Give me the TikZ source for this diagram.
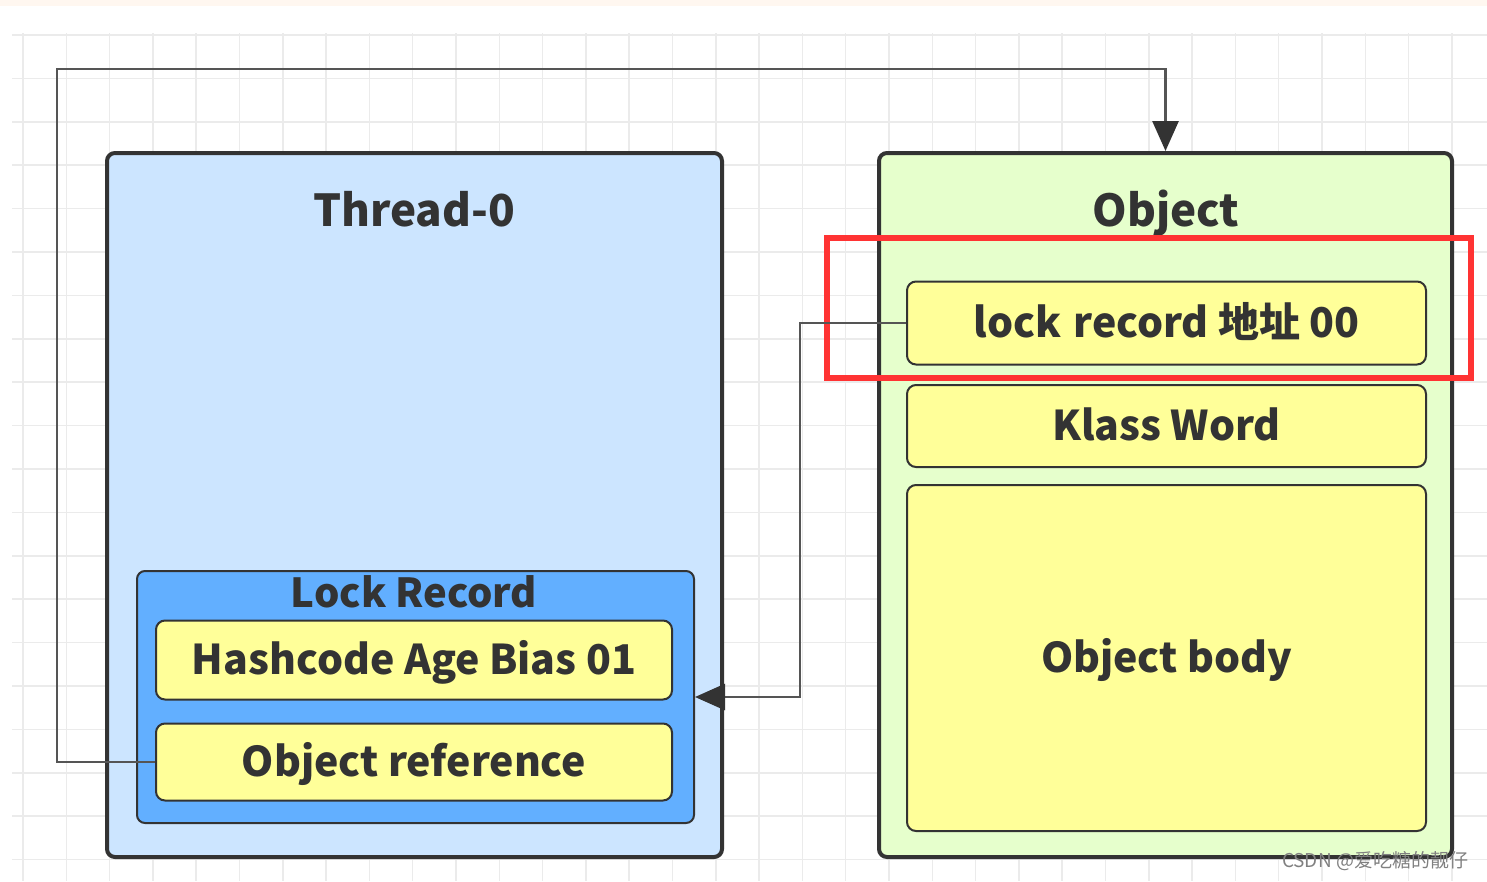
\documentclass[tikz,border=0pt]{standalone}
\usepackage{fontspec}
\setmainfont{Noto Sans CJK SC}
\usepackage{tikz}
\usetikzlibrary{arrows.meta, positioning, backgrounds}
\definecolor{gridgray}{HTML}{EBEBEB}
\definecolor{threadblue}{HTML}{CCE5FF}
\definecolor{recblue}{HTML}{62AFFF}
\definecolor{objgreen}{HTML}{E6FFCC}
\definecolor{fieldyellow}{HTML}{FFFF99}
\definecolor{edgegray}{HTML}{333333}
\definecolor{linegray}{HTML}{555555}
\definecolor{markred}{HTML}{FF3333}
\tikzstyle{outerbox} = [rectangle, rounded corners=8pt, draw=edgegray, line width=4pt]
\tikzstyle{recbox} = [rectangle, rounded corners=8pt, draw=edgegray, line width=2pt, fill=recblue]
\tikzstyle{field} = [rectangle, rounded corners=9pt, draw=edgegray, line width=2pt, fill=fieldyellow, minimum width=516pt, text=edgegray, text height=29pt, text depth=0pt, font=\fontsize{41}{48}\selectfont\bfseries]
\tikzstyle{title} = [text=edgegray, text height=30pt, text depth=0pt, font=\fontsize{44}{50}\selectfont\bfseries]
\tikzstyle{arrow} = [draw=linegray, line width=2.8pt, -{Triangle[length=30pt,width=26pt,color=edgegray]}]

\begin{document}
\begin{tikzpicture}[x=1pt, y=-1pt]
\useasboundingbox (0,0) rectangle (1487,881);
\fill[orange!6] (0,0) rectangle (1487,6);

% grid
\foreach \gx in {0,...,33} \draw[gridgray, line width=1.5pt] (23+43.3*\gx,33) -- (23+43.3*\gx,881);
\foreach \gy in {0,...,19} \draw[gridgray, line width=1.5pt] (12,35+43.4*\gy) -- (1487,35+43.4*\gy);

% thread side
\node (thread) [outerbox, fill=threadblue, minimum width=615pt, minimum height=704pt] at (414.5,505) {};
\node (threadtitle) [title] at (414,211) {Thread-0};
\node (lockrec) [recbox, minimum width=557pt, minimum height=252pt] at (415.5,697) {};
\node (lockrectitle) [title, font=\fontsize{40}{48}\selectfont\bfseries, text height=28pt] at (414,593) {Lock Record};
\node (hashcode) [field, minimum height=79pt] at (414,660) {Hashcode Age Bias 01};
\node (objref) [field, minimum height=77pt] at (414,762) {Object reference};

% object side
\node (object) [outerbox, fill=objgreen, minimum width=573pt, minimum height=704pt] at (1165.5,505) {};
\node (objecttitle) [title] at (1166,211) {Object};
\node (lockaddr) [field, minimum width=519pt, minimum height=83pt] at (1166.5,323) {lock\hspace{0.3em}record 地址 00};
\node (klass) [field, minimum width=519pt, minimum height=82pt] at (1166.5,426) {Klass Word};
\node (body) [field, minimum width=519pt, minimum height=346pt] at (1166.5,658) {Object body};

% highlight
\node (mark) [draw=markred, line width=6pt, minimum width=644pt, minimum height=140pt] at (1149,308) {};

\coordinate (left) at (57,69);
\coordinate (mid) at (800,697);
\draw [arrow] (objref.west) -| (left) -| (object.north);
\draw [arrow] (lockaddr.west) -| (mid) -- (lockrec.east);

\node (csdn) [text=gray, font=\fontsize{19}{22}\selectfont] at (1375,861) {CSDN @爱吃糖的靓仔};
\end{tikzpicture}
\end{document}
